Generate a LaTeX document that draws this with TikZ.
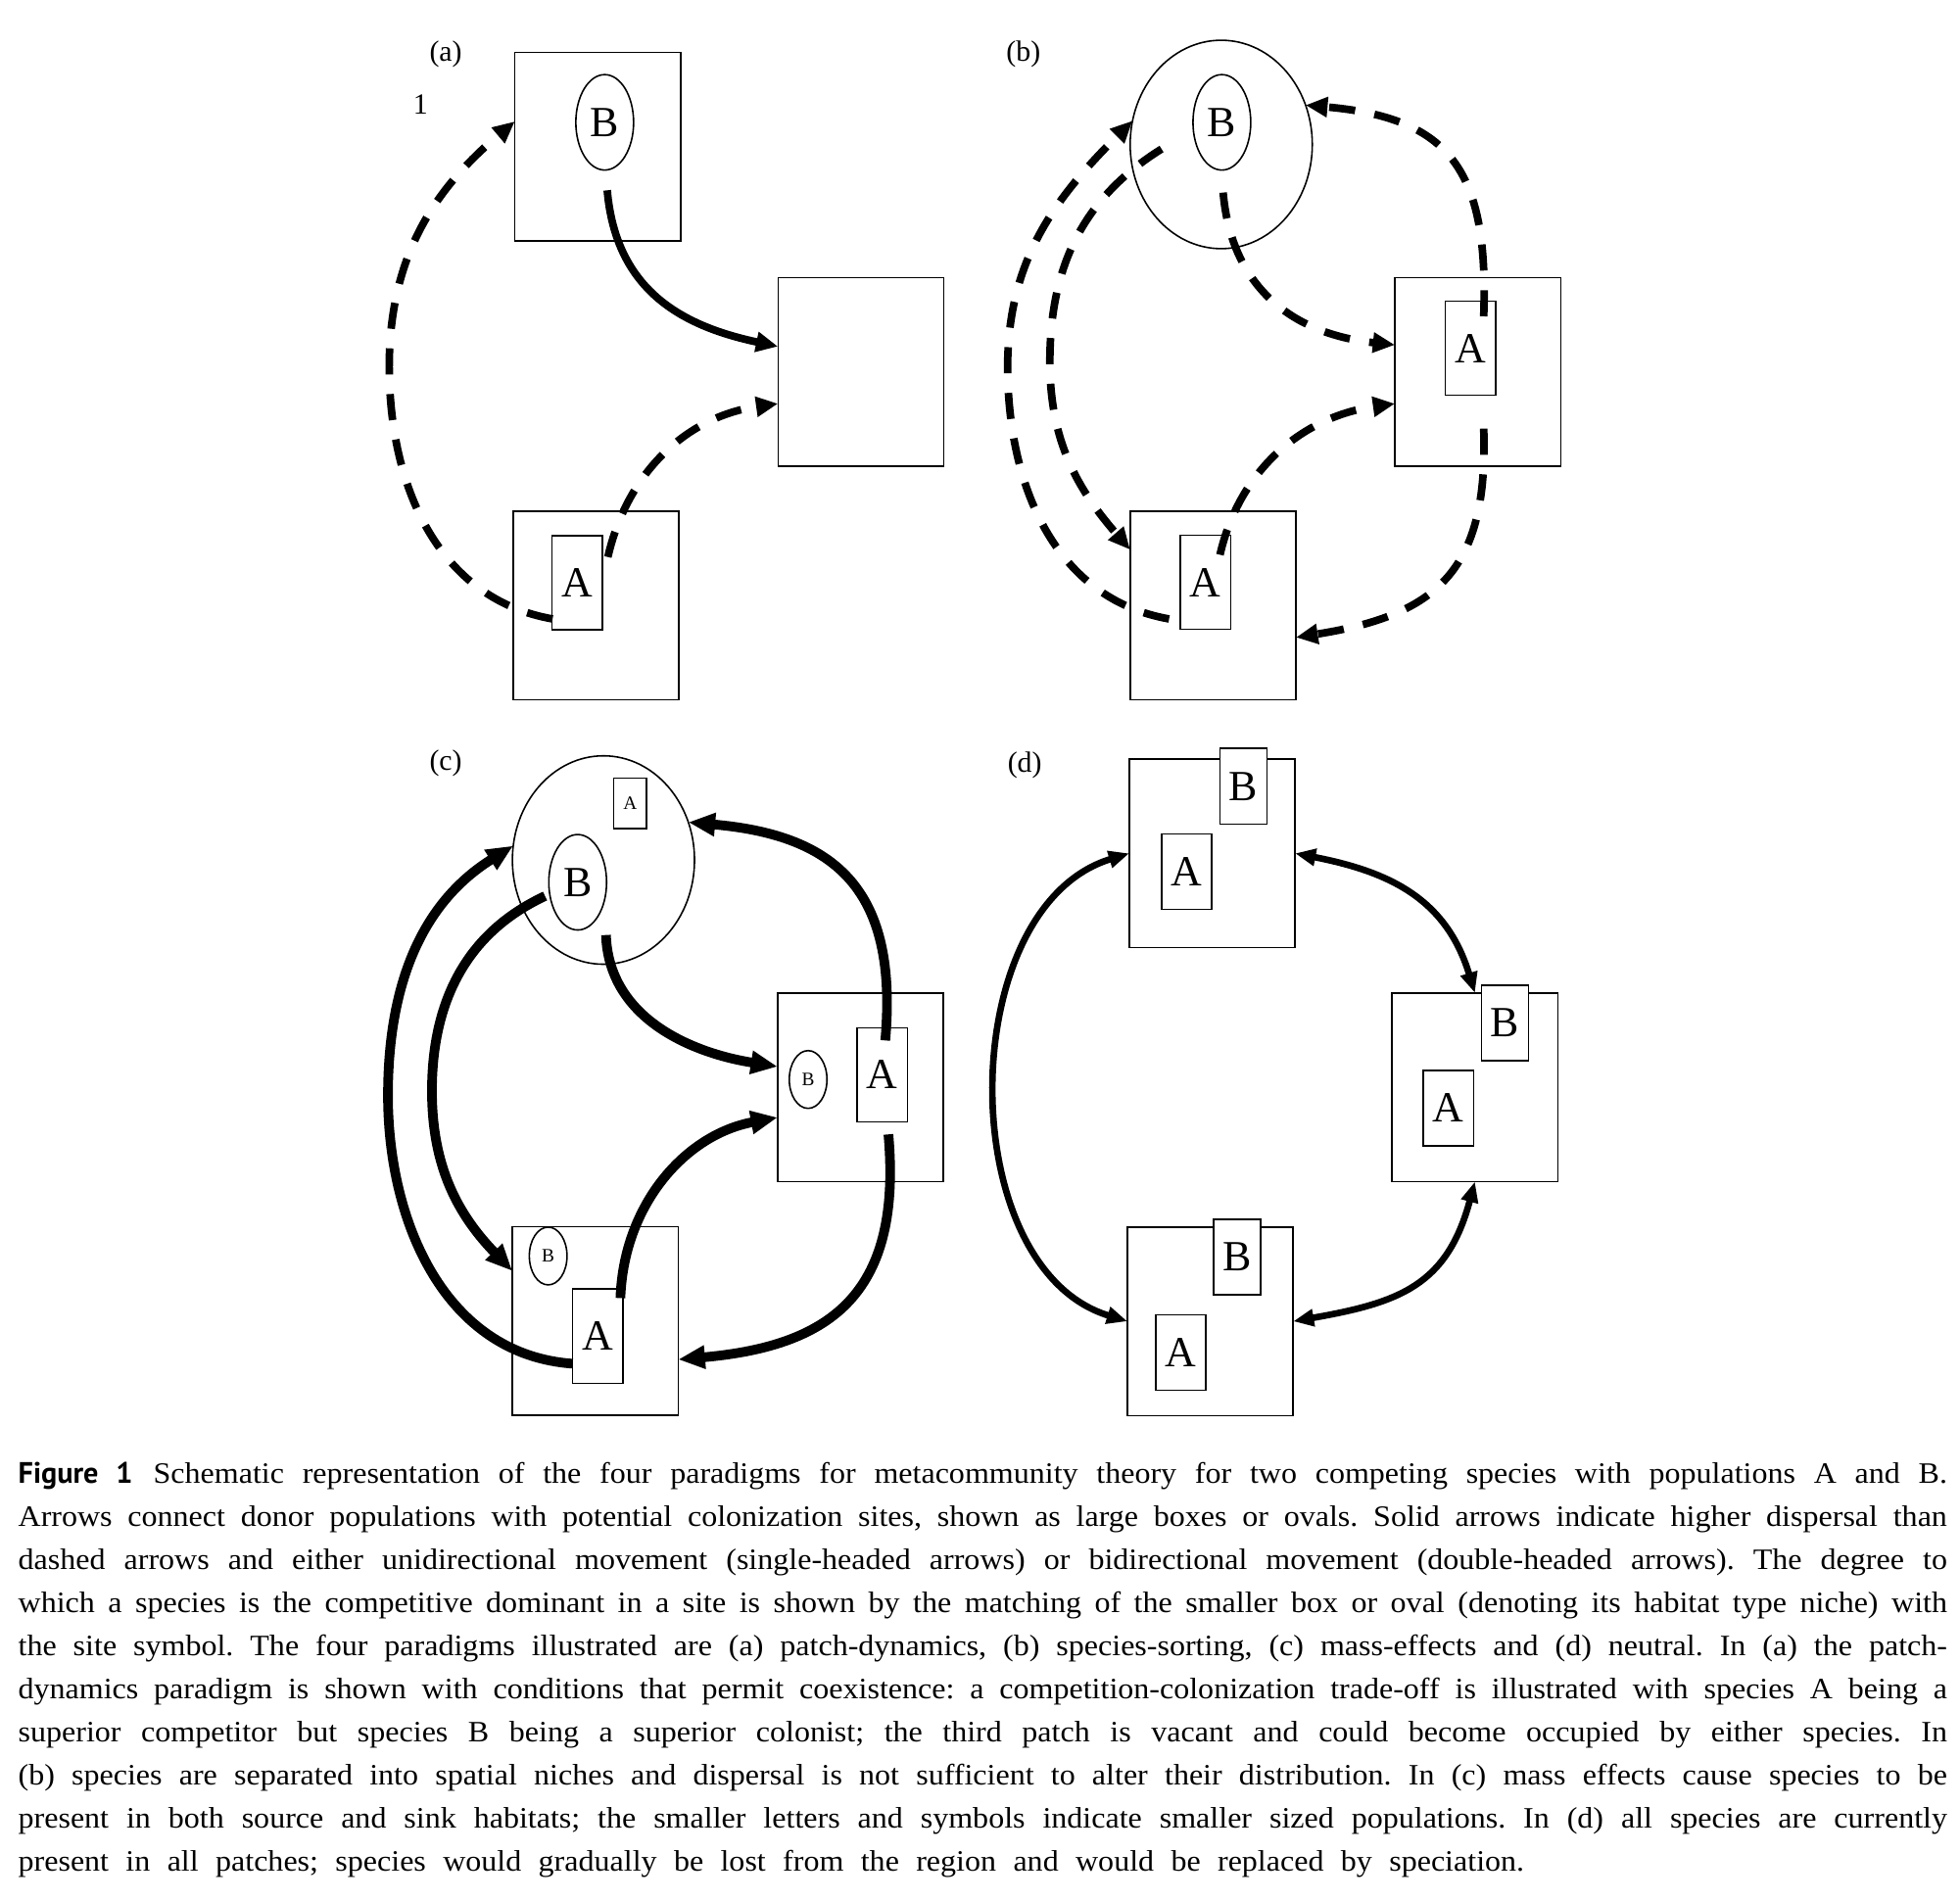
\documentclass[tikz,border=0pt]{standalone}
\usepackage{fontspec}
\setmainfont{Liberation Serif}
\newfontfamily\capfont{Liberation Serif}[FakeStretch=1.06]
\newfontfamily\figfont{PT Sans}
\usepackage{tikz}
\usetikzlibrary{arrows.meta,shapes.geometric}
\frenchspacing

\begin{document}
\begin{tikzpicture}[x=0.012827cm,y=0.012827cm,
  site/.style={draw,line width=0.45pt,rectangle,inner sep=0pt,outer sep=0pt,minimum width=1.693cm,minimum height=1.927cm},
  oval/.style={draw,line width=0.45pt,ellipse,inner sep=0pt,outer sep=0pt,minimum width=1.86cm,minimum height=2.129cm},
  popA/.style={draw,fill=white,line width=0.45pt,rectangle,inner sep=0pt,minimum width=0.513cm,minimum height=0.962cm,font=\fontsize{12.5}{14}\selectfont},
  popB/.style={draw,fill=white,line width=0.45pt,ellipse,inner sep=0pt,minimum width=0.59cm,minimum height=0.975cm,font=\fontsize{12.5}{14}\selectfont},
  smallA/.style={popA,minimum width=0.339cm,minimum height=0.513cm,font=\fontsize{5.5}{6}\selectfont},
  smallB/.style={popB,minimum width=0.385cm,minimum height=0.59cm,font=\fontsize{5.5}{6}\selectfont},
  shortA/.style={popA,minimum height=0.772cm},
  shortB/.style={popA,minimum width=0.481cm,minimum height=0.772cm},
  lab/.style={inner sep=0pt,font=\fontsize{8.5}{10}\selectfont},
  sld/.style={line width=2.2pt,-{Triangle[length=6.4pt,width=5.6pt]}},
  dsh/.style={sld,dash pattern=on 7.6pt off 5.7pt},
  hvy/.style={line width=2.8pt,-{Triangle[length=7.8pt,width=6.4pt]}},
  both/.style={line width=1.9pt,{Triangle[length=6pt,width=4.8pt]}-{Triangle[length=6pt,width=4.8pt]}},
  capline/.style={anchor=base west,inner sep=0pt,font=\capfont\fontsize{8.6}{12.5}\selectfont}]
\useasboundingbox (0,0) rectangle (1560,-1513.2);

% (a) patch dynamics
\node[lab] (lab-a) at (354.8,-43.1) {(a)};
\node[lab] (lab-1) at (334.8,-83.2) {1};
\node[site] (a-Bsite) at (475.8,-116.8) {};
\node[popB] (a-Bpop) at (481.3,-97.4) {B};
\node[site] (a-vac) at (685.2,-296) {};
\node[site] (a-Asite) at (474.3,-482.1) {};
\node[popA] (a-Apop) at (459.3,-463.9) {A};
\coordinate (a-s1) at (483.3,-151.5);
\coordinate (a-s2) at (483.8,-443.4);
\coordinate (a-s3) at (439.8,-492.7);
\draw[sld] (a-s1) to[out=-85,in=168,looseness=1.1] (a-vac.163);
\draw[dsh] (a-s2) to[out=77,in=188] (a-vac.201);
\draw[dsh] (a-s3) to[out=170,in=-90] (309.8,-292) to[out=90,in=220] (a-Bsite.163);

% (b) species sorting
\node[lab] (lab-b) at (814.6,-43.1) {(b)};
\node[oval] (b-oval) at (972,-115) {};
\node[popB] (b-Bpop) at (972.5,-97.4) {B};
\node[site] (b-site2) at (1176.2,-296) {};
\node[popA] (b-Apop2) at (1170.4,-277.2) {A};
\node[site] (b-site3) at (965.5,-482.1) {};
\node[popA] (b-Apop3) at (959.5,-463.5) {A};
\coordinate (b-s1) at (973.5,-153.3);
\coordinate (b-s2) at (971,-441.6);
\coordinate (b-s3) at (930.5,-492.7);
\coordinate (b-s4) at (924.5,-118.6);
\coordinate (b-s5) at (1180.9,-251.8);
\coordinate (b-s6) at (1180.9,-341.2);
\draw[dsh] (b-s1) to[out=-85,in=174,looseness=1.1] (b-site2.162);
\draw[dsh] (b-s2) to[out=77,in=188] (b-site2.201);
\draw[dsh] (b-s3) to[out=170,in=-90] (802,-292) to[out=90,in=225] (b-oval.165.5);
\draw[dsh] (b-s4) to[out=212,in=90] (835.6,-288) to[out=-90,in=131] (b-site3.146.3);
\draw[dsh] (b-s5) to[out=88,in=-5,looseness=1.35] (b-oval.25.6);
\draw[dsh] (b-s6) to[out=-88,in=9,looseness=1.3] (b-site3.339);

% (c) mass effects
\node[lab] (lab-c) at (354.8,-607.4) {(c)};
\node[oval] (c-oval) at (480.3,-684.6) {};
\node[smallA] (c-Asmall) at (501.5,-639.5) {A};
\node[popB] (c-Bpop) at (459.8,-702.3) {B};
\node[site] (c-site2) at (684.9,-865.5) {};
\node[smallB] (c-Bsmall2) at (643.2,-859.3) {B};
\node[popA] (c-Apop2) at (702.2,-855.6) {A};
\node[site] (c-site3) at (473.8,-1051.4) {};
\node[smallB] (c-Bsmall3) at (436.3,-999.8) {B};
\node[popA] (c-Apop3) at (475.8,-1063.6) {A};
\coordinate (c-s1) at (482.3,-744.3);
\coordinate (c-s2) at (493.8,-1033.3);
\coordinate (c-s3) at (704.6,-828.2);
\coordinate (c-s4) at (707.1,-903);
\coordinate (c-s5) at (455.8,-1085.5);
\coordinate (c-s6) at (433.8,-713.3);
\draw[hvy] (c-s1) to[out=-88,in=171] (c-site2.166.3);
\draw[hvy] (c-s2) to[out=88,in=190.6] (c-site2.200.5);
\draw[hvy] (c-s3) to[out=85,in=-5,looseness=1.3] (c-oval.24.2);
\draw[hvy] (c-s4) to[out=-85,in=5,looseness=1.3] (c-site3.335);
\draw[hvy] (c-s5) to[out=176,in=-90] (308.8,-872) to[out=90,in=212] (c-oval.171.2);
\draw[hvy] (c-s6) to[out=205,in=90] (343.8,-868.4) to[out=-90,in=134] (c-site3.149.5);

% (d) neutral
\node[lab] (lab-d) at (815.6,-609.2) {(d)};
\node[site] (d-site1) at (964.8,-679.3) {};
\node[shortB] (d-B1) at (989.8,-625.9) {B};
\node[shortA] (d-A1) at (944.5,-693.9) {A};
\node[site] (d-site2) at (1173.9,-865.5) {};
\node[shortB] (d-B2) at (1197.9,-814.4) {B};
\node[shortA] (d-A2) at (1152.9,-882.1) {A};
\node[site] (d-site3) at (963.3,-1051.8) {};
\node[shortB] (d-B3) at (984.8,-1000.7) {B};
\node[shortA] (d-A3) at (939.8,-1076.6) {A};
\draw[both] (d-site1.west) to[out=197,in=163] (d-site3.west);
\draw[both] (d-site1.east) to[out=-11,in=107,looseness=1.1] (d-site2.north);
\draw[both] (d-site2.south) to[out=-105,in=10,looseness=1.2] (d-site3.east);

% caption, one line at a time
\foreach \txt [count=\i from 0] in {
  {{\figfont\bfseries\fontsize{8.6}{10}\selectfont Figure 1}\hspace{6pt}Schematic representation of the four paradigms for metacommunity theory for two competing species with populations A and B.},
  {Arrows connect donor populations with potential colonization sites, shown as large boxes or ovals. Solid arrows indicate higher dispersal than},
  {dashed arrows and either unidirectional movement (single-headed arrows) or bidirectional movement (double-headed arrows). The degree to},
  {which a species is the competitive dominant in a site is shown by the matching of the smaller box or oval (denoting its habitat type niche) with},
  {the site symbol. The four paradigms illustrated are (a) patch-dynamics, (b) species-sorting, (c) mass-effects and (d) neutral. In (a) the patch-},
  {dynamics paradigm is shown with conditions that permit coexistence: a competition-colonization trade-off is illustrated with species A being a},
  {superior competitor but species B being a superior colonist; the third patch is vacant and could become occupied by either species. In},
  {(b) species are separated into spatial niches and dispersal is not sufficient to alter their distribution. In (c) mass effects cause species to be},
  {present in both source and sink habitats; the smaller letters and symbols indicate smaller sized populations. In (d) all species are currently}}
  \node[capline] (cap\i) at (14,{-1181.1-34.3*\i}) {\makebox[19.7cm][s]{\txt}};
\node[capline] (cap9) at (14,-1489.8) {\makebox[15.38cm][s]{present in all patches; species would gradually be lost from the region and would be replaced by speciation.}};
\end{tikzpicture}
\end{document}
